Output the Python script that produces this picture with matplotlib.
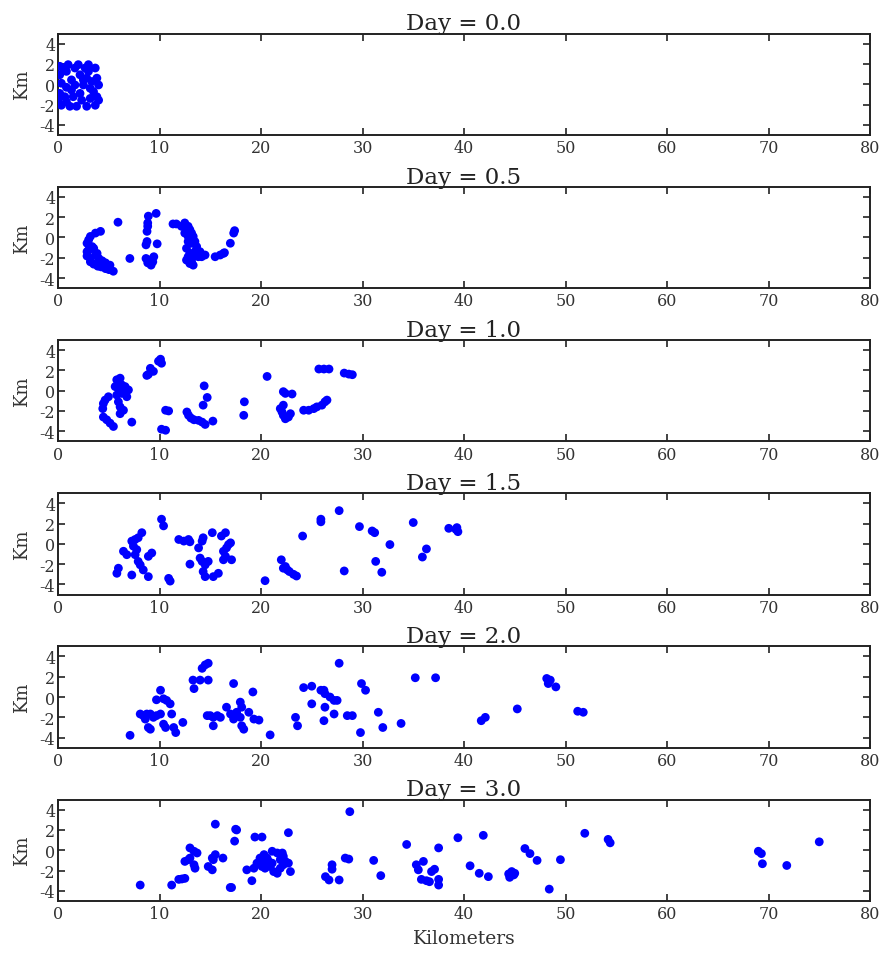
import matplotlib
matplotlib.use("Agg")
import matplotlib.pyplot as plt

plt.rcParams['font.family'] = ['DejaVu Serif']
plt.rcParams['axes.unicode_minus'] = False

days = ["0.0", "0.5", "1.0", "1.5", "2.0", "3.0"]

x_day00 = [0.17, 1.0, 2.0, 3.0, 3.67, 0.17, 0.83, 1.33, 2.17, 2.83, 3.83, 4.0, 0.33, 0.83, 1.67,
           2.5, 3.17, 0.17, 0.67, 1.5, 2.33, 3.17, 3.83, 0.33, 1.17, 1.83, 2.83, 3.67, 4.0, 0.0,
           0.83, 3.5, 2.17, 1.33, 3.0, 2.67, 0.5, 1.67, 3.33, 2.5]
y_day00 = [1.77, 1.93, 1.93, 1.93, 1.6, 0.93, 1.27, 0.43, 0.93, 0.6, 0.6, -0.07, 0.1, -0.3, -0.07,
           -0.07, -0.4, -0.9, -1.23, -1.23, -1.57, -1.4, -1.23, -2.07, -2.17, -2.17, -2.17, -2.07, -1.57, -1.57,
           -1.73, -0.73, -0.9, -0.57, 1.27, 1.6, 1.6, 1.6, 0.27, 0.43]

x_day05 = [2.86, 3.02, 3.19, 3.36, 2.86, 2.86, 3.19, 3.02, 3.69, 4.19, 3.19, 3.52, 3.92, 4.25, 4.68,
           5.02, 5.45, 3.69, 4.02, 4.35, 4.68, 5.12, 3.52, 3.85, 5.91, 7.08, 8.67, 8.77, 8.77, 8.84,
           8.84, 8.9, 9.67, 9.77, 8.67, 8.84, 9.17, 9.44, 9.34, 9.0, 11.33, 11.66, 12.49, 12.82, 12.99,
           13.16, 13.32, 12.82, 12.49, 12.82, 13.16, 13.49, 12.66, 12.99, 12.82, 13.16, 13.32, 12.99, 13.49, 13.66,
           13.99, 14.15, 14.49, 13.82, 13.32, 12.66, 12.16, 15.48, 15.98, 16.31, 16.4, 16.98, 17.31, 17.4]
y_day05 = [-0.57, -0.23, 0.1, -0.9, -1.4, -1.83, -2.07, -1.23, 0.43, 0.6, -2.4, -2.63, -2.83, -2.9, -3.07,
           -3.17, -3.33, -1.73, -2.07, -2.3, -2.5, -2.73, -1.07, -1.57, 1.5, -2.07, -0.73, -0.4, 0.6, 1.1,
           1.43, 2.1, 2.37, -0.63, -2.07, -2.5, -2.73, -1.9, -2.4, -2.23, 1.33, 1.33, 1.43, 1.1, 0.77,
           0.43, 0.1, 0.1, 0.43, -0.4, -0.57, -0.4, -1.07, -1.57, -1.9, -2.4, -2.73, -2.57, -1.4, -0.9,
           -1.4, -1.9, -1.73, -1.9, -1.9, -2.23, 1.1, -1.9, -1.73, -1.57, -1.5, -0.57, 0.43, 0.67]

x_day10 = [4.47, 4.64, 4.97, 4.41, 4.47, 4.8, 5.13, 5.46, 5.79, 6.12, 5.63, 5.95, 6.28, 6.61, 6.94,
           5.79, 6.28, 6.78, 5.95, 6.12, 6.45, 6.12, 7.27, 8.9, 9.1, 9.4, 8.75, 9.9, 10.2, 10.1,
           10.6, 10.9, 10.2, 10.6, 12.7, 12.86, 13.1, 13.4, 13.85, 14.2, 14.5, 15.26, 14.4, 14.7, 14.3,
           18.36, 18.3, 20.6, 22.2, 22.4, 23.06, 22.2, 21.9, 22.07, 22.2, 22.4, 22.7, 22.9, 24.2, 24.7,
           25.2, 25.5, 26.0, 26.3, 26.5, 25.7, 26.2, 26.7, 28.2, 28.65, 29.0]
y_day10 = [-1.27, -0.93, -0.6, -1.77, -2.6, -2.87, -3.2, -3.53, 1.07, 1.23, 0.4, 0.23, 0.57, 0.4, 0.07,
           -0.43, -0.27, -0.6, -1.1, -1.6, -1.93, -2.27, -3.1, 1.6, 2.2, 1.9, 1.5, 2.9, 2.7, 3.1,
           -1.93, -2.0, -3.8, -3.9, -2.1, -2.43, -2.7, -2.87, -2.93, -3.1, -3.33, -3.0, 0.47, -0.67, -1.43,
           -1.1, -2.43, 1.4, -0.1, -0.27, -0.33, -1.43, -1.77, -2.1, -2.43, -2.77, -2.6, -2.27, -1.93, -1.93,
           -1.77, -1.6, -1.43, -1.1, -0.93, 2.13, 2.13, 2.13, 1.73, 1.63, 1.57]

x_day15 = [5.95, 5.8, 6.45, 6.78, 7.27, 7.6, 7.9, 8.26, 7.43, 7.76, 7.6, 7.9, 8.1, 7.27, 8.4,
           8.9, 8.9, 9.24, 10.2, 10.4, 10.9, 11.05, 11.9, 12.4, 12.86, 13.0, 13.0, 13.85, 14.3, 14.2,
           14.0, 14.2, 14.5, 14.8, 14.3, 14.5, 15.3, 15.2, 15.8, 16.1, 16.5, 16.8, 17.0, 16.3, 16.3,
           16.5, 17.1, 16.6, 20.4, 22.0, 22.2, 22.6, 22.8, 23.2, 23.5, 22.4, 24.1, 25.9, 25.9, 27.7,
           28.2, 29.7, 30.95, 31.2, 31.3, 31.9, 32.7, 35.0, 36.3, 35.9, 38.5, 39.2, 39.4, 39.3]
y_day15 = [-2.4, -2.9, -0.73, -1.07, 0.27, 0.43, 0.6, 1.1, -0.23, -0.57, -1.07, -1.73, -2.07, -3.07, -2.57,
           -3.23, -1.23, -0.9, 2.43, 1.77, -3.4, -3.67, 0.43, 0.27, 0.43, 0.2, -2.0, -0.4, 0.6, 0.27,
           -1.4, -1.73, -2.07, -1.73, -2.73, -3.23, -3.23, 1.1, -2.9, 0.77, 1.1, -0.07, 0.1, -0.73, -1.57,
           -1.23, -1.57, -0.4, -3.63, -1.57, -2.4, -2.57, -2.73, -3.0, -3.17, -2.23, 0.77, 2.43, 2.17, 3.27,
           -2.67, 1.7, 1.27, 1.1, -1.73, -2.8, -0.07, 2.1, -0.5, -1.3, 1.53, 1.43, 1.2, 1.6]

x_day20 = [7.1, 8.1, 8.4, 8.75, 8.6, 9.1, 9.4, 9.7, 10.1, 9.1, 8.9, 9.7, 10.1, 10.4, 10.7,
           11.05, 11.2, 10.4, 10.6, 11.4, 11.6, 12.3, 13.3, 13.4, 14.0, 14.8, 14.2, 14.5, 14.8, 14.7,
           15.0, 15.3, 15.7, 16.0, 15.3, 16.6, 17.0, 17.3, 17.3, 17.6, 17.96, 18.1, 17.96, 18.3, 18.1,
           18.8, 19.3, 19.8, 19.2, 20.9, 23.4, 23.6, 24.2, 25.0, 25.0, 25.9, 26.2, 26.3, 26.8, 27.2,
           27.5, 26.3, 26.2, 27.2, 27.7, 28.5, 29.0, 29.9, 30.3, 29.8, 31.56, 32.0, 33.8, 35.2, 37.2,
           41.7, 42.1, 45.25, 48.15, 48.5, 48.3, 49.05, 51.2, 51.75]
y_day20 = [-3.77, -1.67, -1.83, -1.67, -2.17, -1.67, -2.0, -1.83, -1.67, -3.17, -3.0, -0.27, 0.67, -0.17, -0.33,
           -0.67, -1.67, -2.67, -3.0, -3.0, -3.5, -2.5, 1.67, 0.83, 1.67, 1.67, 2.83, 3.17, 3.33, -1.83,
           -1.83, -2.83, -1.83, -2.0, -2.0, -1.0, -1.67, -2.17, 1.33, -1.5, -0.5, -1.0, -2.0, -3.17, -2.83,
           -1.5, -2.17, -2.27, 0.5, -3.73, -2.0, -2.83, 0.93, 1.07, -0.67, 0.67, 0.67, 0.33, 0.0, -0.33,
           -0.33, -1.0, -2.33, -1.67, 3.33, -1.83, -1.83, 1.33, 0.67, -3.5, -1.5, -3.0, -2.6, 1.9, 1.9,
           -2.33, -2.0, -1.17, 1.83, 1.67, 1.33, 1.0, -1.4, -1.5]

x_day30 = [8.1, 11.2, 11.9, 12.2, 12.5, 12.5, 12.86, 13.0, 13.4, 13.7, 13.4, 13.5, 13.0, 14.8, 15.2,
           15.2, 15.5, 15.3, 16.25, 15.5, 17.5, 17.6, 17.4, 17.1, 16.97, 18.6, 19.1, 19.3, 19.4, 20.1,
           19.6, 19.9, 20.3, 20.6, 21.1, 21.6, 22.1, 22.2, 22.4, 22.7, 22.9, 20.1, 20.4, 20.9, 21.25,
           21.6, 21.9, 22.2, 20.75, 20.3, 21.1, 21.9, 22.7, 26.35, 26.7, 27.0, 27.0, 27.7, 28.3, 28.65,
           28.75, 31.1, 31.8, 34.35, 35.3, 35.5, 36.0, 36.8, 37.1, 35.8, 36.3, 36.6, 37.5, 37.5, 37.5,
           39.4, 40.6, 41.5, 42.4, 41.9, 44.4, 44.7, 44.9, 44.5, 45.0, 46.0, 46.5, 47.2, 48.4, 49.5,
           51.9, 54.2, 54.4, 69.0, 69.3, 69.4, 71.8, 75.0]
y_day30 = [-3.43, -3.43, -2.87, -2.83, -2.77, -1.1, -0.93, 0.23, -0.1, -0.27, -1.43, -1.77, -0.77, -1.6, -1.93,
           -0.77, -0.43, -0.93, -0.77, 2.57, 2.07, 2.0, 0.9, -3.67, -3.67, -1.93, -3.0, -1.77, 1.3, 1.3,
           -1.27, -0.77, -0.43, -0.77, -0.1, -0.27, -0.27, -0.6, -1.1, -1.27, -2.1, -1.6, -1.77, -1.6, -2.1,
           -2.27, -1.77, -1.43, -1.1, -1.27, -1.27, -0.93, 1.73, -2.6, -2.93, -1.43, -1.87, -2.93, -0.77, -0.87,
           3.8, -1.0, -2.5, 0.57, -1.43, -1.93, -1.1, -2.1, -1.87, -2.87, -3.0, -3.1, -2.87, -3.43, 0.23,
           1.23, -1.53, -2.27, -2.6, 1.47, -2.33, -2.1, -2.43, -2.67, -2.27, 0.17, -0.33, -1.0, -3.83, -0.93,
           1.67, 1.07, 0.73, -0.1, -0.33, -1.33, -1.5, 0.83]

xs = [x_day00, x_day05, x_day10, x_day15, x_day20, x_day30]
ys = [y_day00, y_day05, y_day10, y_day15, y_day20, y_day30]

x_ticks = [0, 10, 20, 30, 40, 50, 60, 70, 80]
y_ticks = [-4, -2, 0, 2, 4]

W, H = 885, 954
fig = plt.figure(figsize=(W / 100, H / 100), dpi=100)

left_px, right_px = 58, 870
top0_px, step_px, height_px = 34.5, 153.2, 101.5

for i in range(6):
    top = top0_px + step_px * i
    ax = fig.add_axes([left_px / W, 1 - (top + height_px) / H,
                       (right_px - left_px) / W, height_px / H])
    ax.scatter(xs[i], ys[i], s=40, c='blue', edgecolors='none', zorder=3)
    ax.set_xlim(0, 80)
    ax.set_ylim(-5, 5)
    ax.set_xticks(x_ticks)
    ax.set_yticks(y_ticks)
    ax.tick_params(direction='in', top=True, right=True, length=5, width=1.2,
                   labelsize=11.5, colors='#222222', labelcolor='#333333', pad=3)
    ax.tick_params(axis='y', pad=2)
    for sp in ax.spines.values():
        sp.set_linewidth(1.4)
        sp.set_color('#222222')
    ax.set_title(f"Day = {days[i]}", fontsize=16.5, pad=3, color='#222222')
    ax.set_ylabel("Km", fontsize=13, labelpad=6, color='#333333')
    if i == 5:
        ax.set_xlabel("Kilometers", fontsize=13.5, labelpad=5, color='#333333')

fig.savefig("out.png", dpi=100)
